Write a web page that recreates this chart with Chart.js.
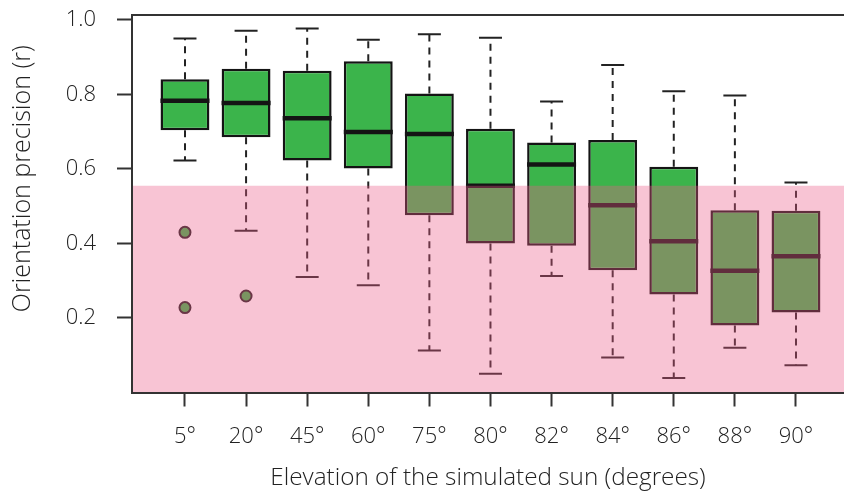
<!DOCTYPE html>
<html>
<head>
<meta charset="utf-8">
<script src="https://cdn.jsdelivr.net/npm/chart.js@4/dist/chart.umd.min.js"></script>
<style>
  html, body { margin: 0; padding: 0; background: #ffffff; overflow: hidden; }
  #wrap { width: 844px; height: 493px; }
</style>
</head>
<body>
<div id="wrap"><canvas id="c" width="844" height="493"></canvas></div>
<script>
// ---- data ----
const categories = ['5°', '20°', '45°', '60°', '75°', '80°', '82°', '84°', '86°', '88°', '90°'];
const whiskerLow  = [0.623, 0.434, 0.310, 0.288, 0.113, 0.050, 0.313, 0.094, 0.039, 0.120, 0.073];
const quartile1   = [0.704, 0.685, 0.623, 0.601, 0.476, 0.400, 0.394, 0.328, 0.263, 0.180, 0.215];
const medians     = [0.783, 0.777, 0.736, 0.699, 0.694, 0.555, 0.612, 0.503, 0.406, 0.327, 0.366];
const quartile3   = [0.841, 0.869, 0.864, 0.889, 0.803, 0.708, 0.671, 0.678, 0.606, 0.489, 0.488];
const whiskerHigh = [0.950, 0.971, 0.977, 0.947, 0.962, 0.952, 0.781, 0.879, 0.809, 0.797, 0.564];
const outlierCategory = [1, 1, 2];
const outlierValues   = [0.430, 0.228, 0.259];
const yTickValues = [0.2, 0.4, 0.6, 0.8, 1.0];
const shadedLimit = 0.555;   // upper edge of the pink band (band spans 0 .. shadedLimit)

const X_MIN = 0.133, X_MAX = 11.786, Y_MIN = 0, Y_MAX = 1.0134;

const GREEN = '#3bb44b';
const PINK = 'rgba(236, 92, 136, 0.36)';
const INK = '#141414';
const AXIS = '#333333';
const FONT = '"Open Sans", Lato, sans-serif';
const TICK_SIZE = 22;
const XTITLE_SIZE = 24.3;
const YTITLE_SIZE = 25;

const pos = categories.map((_, i) => i + 1);

const boxData = pos.map((x, i) => ({ x, y: [quartile1[i], quartile3[i]] }));
const upperWhisk = [];
const lowerWhisk = [];
pos.forEach((x, i) => {
  upperWhisk.push({ x, y: quartile3[i] }, { x, y: whiskerHigh[i] }, { x, y: null });
  lowerWhisk.push({ x, y: quartile1[i] }, { x, y: whiskerLow[i] }, { x, y: null });
});
const caps = pos.flatMap((x, i) => [{ x, y: whiskerHigh[i] }, { x, y: whiskerLow[i] }]);
const medianPts = pos.map((x, i) => ({ x, y: medians[i] }));
const outlierPts = outlierCategory.map((c, i) => ({ x: c, y: outlierValues[i] }));
const bandPts = [{ x: X_MIN, y: shadedLimit }, { x: X_MAX, y: shadedLimit }];

const yTitlePlugin = {
  id: 'yTitle',
  afterDraw(chart) {
    const { ctx, chartArea } = chart;
    ctx.save();
    ctx.fillStyle = '#222';
    ctx.font = '300 ' + YTITLE_SIZE + 'px ' + FONT;
    ctx.textAlign = 'center';
    ctx.textBaseline = 'middle';
    ctx.translate(chartArea.left - 109, (chartArea.top + chartArea.bottom) / 2 - 25);
    ctx.rotate(-Math.PI / 2);
    ctx.fillText('Orientation precision (r)', 0, 0);
    ctx.restore();
  }
};

function noPad(s) { s.paddingTop = 0; s.paddingBottom = 0; s.paddingLeft = 0; s.paddingRight = 0; }

new Chart(document.getElementById('c'), {
  type: 'bar',
  data: {
    datasets: [
      { type: 'line', data: bandPts, fill: 'origin', backgroundColor: PINK, borderWidth: 0,
        pointRadius: 0, order: 0 },
      { type: 'bar', data: boxData, backgroundColor: GREEN, borderColor: INK, borderWidth: 2.5,
        borderSkipped: false, categoryPercentage: 0.8, barPercentage: 1.0, order: 5 },
      { type: 'line', data: upperWhisk, borderColor: '#222', borderWidth: 2, borderDash: [7, 6],
        pointRadius: 0, spanGaps: false, fill: false, order: 6 },
      { type: 'line', data: lowerWhisk, borderColor: '#222', borderWidth: 2, borderDash: [7, 6],
        pointRadius: 0, spanGaps: false, fill: false, order: 6 },
      { type: 'scatter', data: caps, pointStyle: 'line', pointRadius: 11.5, pointBorderWidth: 2,
        pointBorderColor: '#222', order: 4 },
      { type: 'scatter', data: medianPts, pointStyle: 'line', pointRadius: 24.5, pointBorderWidth: 4.5,
        pointBorderColor: INK, order: 3 },
      { type: 'scatter', data: outlierPts, pointStyle: 'circle', pointRadius: 5.5, pointBorderWidth: 2,
        pointBackgroundColor: GREEN, pointBorderColor: '#222', order: 3 }
    ]
  },
  options: {
    responsive: false,
    animation: false,
    events: [],
    layout: { autoPadding: false, padding: { left: 0, right: 0, top: 15, bottom: 0 } },
    plugins: { legend: { display: false }, tooltip: { enabled: false } },
    scales: {
      x: {
        type: 'linear', position: 'bottom', min: X_MIN, max: X_MAX, offset: false,
        afterBuildTicks: (s) => { s.ticks = pos.map(v => ({ value: v })); },
        afterFit: (s) => { s.height = 100.5; noPad(s); },
        ticks: { autoSkip: false, maxRotation: 0, padding: 17, color: '#222',
                 font: { family: FONT, size: TICK_SIZE, weight: '300' },
                 callback: (v) => categories[Math.round(v) - 1] },
        grid: { offset: false, drawOnChartArea: false, drawTicks: true, tickLength: 14, tickWidth: 2, tickColor: AXIS },
        border: { display: true, color: AXIS, width: 2, z: 1 },
        title: { display: true, text: 'Elevation of the simulated sun (degrees)', color: '#222',
                 font: { family: FONT, size: XTITLE_SIZE, weight: '300' }, padding: { top: 0, bottom: 0 } }
      },
      xTop: {
        type: 'linear', position: 'top', min: X_MIN, max: X_MAX, offset: false,
        afterFit: (s) => { s.height = 0; noPad(s); },
        ticks: { display: false },
        grid: { display: false, drawTicks: false, offset: false },
        border: { display: true, color: AXIS, width: 2, z: 1 }
      },
      y: {
        type: 'linear', position: 'left', min: Y_MIN, max: Y_MAX,
        afterBuildTicks: (s) => { s.ticks = yTickValues.map(v => ({ value: v })); },
        afterFit: (s) => { s.width = 132; noPad(s); },
        ticks: { padding: 21, color: '#222', font: { family: FONT, size: TICK_SIZE, weight: '300' },
                 callback: (v) => v.toFixed(1) },
        grid: { drawOnChartArea: false, drawTicks: true, tickLength: 15, tickWidth: 2, tickColor: AXIS },
        border: { display: true, color: AXIS, width: 2, z: 1 }
      }
    }
  },
  plugins: [yTitlePlugin]
});
</script>
</body>
</html>
